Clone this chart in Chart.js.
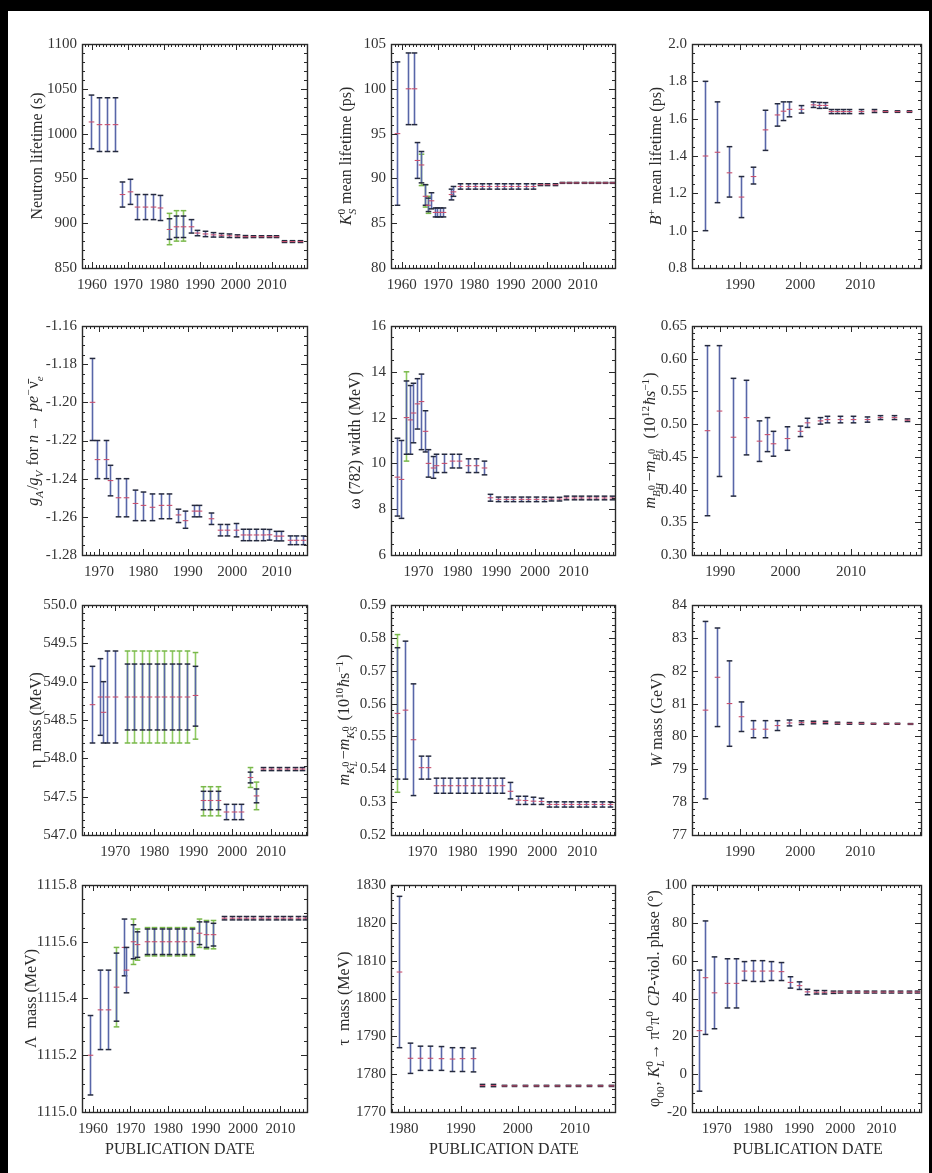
<!DOCTYPE html>
<html>
<head>
<meta charset="utf-8">
<title>PDG history plots</title>
<script src="https://cdn.jsdelivr.net/npm/chart.js@4.4.1/dist/chart.umd.min.js"></script>
<style>
  html, body { margin: 0; padding: 0; background: #000; width: 932px; height: 1173px; overflow: hidden; }
  #sheet { position: absolute; left: 8px; top: 11px; width: 921px; height: 1162px; background: #fff; }
  canvas { position: absolute; }
</style>
</head>
<body>
<div id="sheet"></div>
<script>
// ---------- data ----------

// neutron lifetime (s)
const nYears = [1959.7,1961.9,1964.2,1966.5,1968.3,1970.5,1972.5,1974.8,1976.9,1979.0,1981.3,1983.3,1985.3,1987.5,1989.3,1991.5,1993.7,1995.9,1998.1,2000.3,2002.5,2004.7,2006.9,2009.1,2011.3,2013.5,2015.7,2017.9];
const nVals = [1013,1010,1010,1010,932,935,918,918,918,917,893,896,896,896,889,888,887,886.5,886,885.5,885,885,885,885,885,879.5,879.5,879.5];
const nLo = [983,980,980,980,918,921,904,904,904,903,882,884,884,889,886,885,884.5,884.5,884,884,883.8,884,884,884,884,878.5,878.5,878.5];
const nHi = [1043,1040,1040,1040,946,949,932,932,932,931,905,908,908,904,892,891,889.5,888.5,888,887,886.2,886,886,886,886,880.5,880.5,880.5];
const nGYears = [1981.3,1983.3,1985.3];
const nGLo = [876,880,880];
const nGHi = [911,914,914];
const nXTicks = [1960,1970,1980,1990,2000,2010];
const nYTicks = [850,900,950,1000,1050,1100];

// K_S mean lifetime (ps)
const ksYears = [1958.6,1961.6,1963.4,1964.3,1965.2,1966.3,1967.1,1968.0,1969.1,1969.8,1970.6,1971.3,1973.5,1974.2,1976.2,1978.2,1980.2,1982.2,1984.2,1986.2,1988.2,1990.2,1992.2,1994.2,1996.2,1998.2,2000.2,2002.2,2004.2,2006.2,2008.2,2010.2,2012.2,2014.2,2016.2,2018.2];
const ksVals = [95,100,100,92,91.5,88,87,87.5,86.2,86.2,86.2,86.2,88.2,88.5,89.1,89.1,89.1,89.1,89.1,89.1,89.1,89.1,89.1,89.1,89.1,89.3,89.3,89.3,89.5,89.5,89.5,89.5,89.5,89.5,89.5,89.5];
const ksLo = [87,96,96,90,89.5,87,86.3,86.6,85.7,85.7,85.7,85.7,87.6,88.0,88.8,88.8,88.8,88.8,88.8,88.8,88.8,88.8,88.8,88.8,88.8,89.2,89.2,89.2,89.45,89.45,89.45,89.45,89.45,89.45,89.45,89.45];
const ksHi = [103,104,104,94,93,89.3,87.8,88.4,86.7,86.7,86.7,86.7,88.8,89.1,89.4,89.4,89.4,89.4,89.4,89.4,89.4,89.4,89.4,89.4,89.4,89.4,89.4,89.4,89.55,89.55,89.55,89.55,89.55,89.55,89.55,89.55];
const ksGYears = [1965.2,1966.3,1967.1];
const ksGLo = [89.2,86.8,86.1];
const ksGHi = [92.7,89.3,88.0];
const ksXTicks = [1960,1970,1980,1990,2000,2010];
const ksYTicks = [80,85,90,95,100,105];

// B+ mean lifetime (ps)
const bpYears = [1984.1,1986.2,1988.1,1990.1,1992.1,1994.1,1996.1,1997.1,1998.2,2000.1,2002.1,2003.1,2004.1,2005.2,2006.2,2007.2,2008.2,2010.2,2012.2,2014.1,2016.1,2018.1];
const bpVals = [1.40,1.42,1.31,1.18,1.29,1.54,1.62,1.64,1.65,1.65,1.674,1.671,1.671,1.638,1.638,1.638,1.638,1.638,1.641,1.638,1.638,1.638];
const bpLo = [1.0,1.15,1.18,1.07,1.25,1.43,1.56,1.59,1.61,1.63,1.66,1.655,1.656,1.627,1.627,1.627,1.627,1.627,1.633,1.634,1.634,1.634];
const bpHi = [1.8,1.69,1.45,1.29,1.34,1.645,1.68,1.69,1.69,1.67,1.69,1.687,1.686,1.649,1.649,1.649,1.649,1.649,1.649,1.642,1.642,1.642];
const bpXTicks = [1990,2000,2010];
const bpYTicks = [0.8,1.0,1.2,1.4,1.6,1.8,2.0];

// gA/gV
const gaYears = [1968.5,1969.6,1971.5,1972.6,1974.3,1976.2,1978.1,1980.0,1982.0,1983.9,1985.8,1987.7,1989.4,1991.3,1992.6,1995.2,1997.3,1998.9,2000.8,2002.3,2003.8,2005.3,2006.8,2008.3,2009.8,2011.0,2012.9,2014.4,2015.9];
const gaVals = [-1.20,-1.23,-1.23,-1.241,-1.25,-1.25,-1.253,-1.254,-1.255,-1.254,-1.254,-1.259,-1.262,-1.257,-1.257,-1.261,-1.267,-1.267,-1.267,-1.2695,-1.2695,-1.2695,-1.2695,-1.2694,-1.2701,-1.2701,-1.2723,-1.2723,-1.2723];
const gaLo = [-1.22,-1.24,-1.24,-1.249,-1.26,-1.26,-1.262,-1.262,-1.262,-1.261,-1.261,-1.263,-1.266,-1.260,-1.260,-1.264,-1.270,-1.270,-1.2705,-1.2725,-1.2725,-1.2725,-1.2725,-1.2722,-1.2726,-1.2726,-1.2746,-1.2746,-1.2746];
const gaHi = [-1.177,-1.22,-1.22,-1.233,-1.24,-1.24,-1.246,-1.247,-1.248,-1.248,-1.248,-1.256,-1.257,-1.254,-1.254,-1.258,-1.264,-1.264,-1.2635,-1.2665,-1.2665,-1.2665,-1.2665,-1.2666,-1.2676,-1.2676,-1.2700,-1.2700,-1.2700];
const gaXTicks = [1970,1980,1990,2000,2010];
const gaYTicks = [-1.28,-1.26,-1.24,-1.22,-1.20,-1.18,-1.16];

// omega(782) width (MeV)
const omYears = [1964.4,1965.5,1966.8,1967.7,1968.6,1969.6,1970.6,1971.6,1972.5,1973.6,1974.5,1976.6,1978.5,1980.4,1982.8,1984.9,1986.8,1988.5,1990.5,1992.4,1994.4,1996.3,1998.3,2000.2,2002.2,2004.1,2006.1,2008.0,2010.0,2011.9,2013.9,2015.8,2017.8,2019.7];
const omVals = [9.4,9.3,12.0,11.9,12.2,12.6,12.7,11.4,10.0,9.8,9.9,10.0,10.1,10.1,9.9,9.9,9.8,8.5,8.43,8.43,8.43,8.43,8.43,8.43,8.43,8.44,8.44,8.49,8.49,8.49,8.49,8.49,8.49,8.49];
const omLo = [7.7,7.6,10.4,10.4,10.9,11.5,10.6,10.5,9.4,9.35,9.6,9.6,9.8,9.8,9.6,9.6,9.5,8.35,8.33,8.33,8.33,8.33,8.33,8.33,8.33,8.36,8.36,8.41,8.41,8.41,8.41,8.41,8.41,8.41];
const omHi = [11.1,11.0,13.6,13.4,13.5,13.7,13.9,12.3,10.6,10.3,10.4,10.4,10.4,10.4,10.2,10.2,10.1,8.65,8.53,8.53,8.53,8.53,8.53,8.53,8.53,8.52,8.52,8.57,8.57,8.57,8.57,8.57,8.57,8.57];
const omGYears = [1966.8];
const omGLo = [10.1];
const omGHi = [14.0];
const omXTicks = [1970,1980,1990,2000,2010];
const omYTicks = [6,8,10,12,14,16];

// B0 mass difference
const bdYears = [1988.0,1989.9,1991.9,1994.0,1996.0,1997.1,1998.1,2000.2,2002.2,2003.3,2005.2,2006.3,2008.3,2010.3,2012.4,2014.4,2016.5,2018.5];
const bdVals = [0.49,0.52,0.48,0.51,0.474,0.484,0.470,0.478,0.489,0.502,0.505,0.507,0.507,0.507,0.507,0.510,0.510,0.506];
const bdLo = [0.36,0.42,0.39,0.453,0.443,0.458,0.451,0.460,0.481,0.495,0.500,0.502,0.502,0.502,0.503,0.507,0.507,0.504];
const bdHi = [0.62,0.62,0.57,0.567,0.505,0.510,0.489,0.496,0.497,0.509,0.510,0.512,0.512,0.512,0.511,0.513,0.513,0.508];
const bdXTicks = [1990,2000,2010];
const bdYTicks = [0.30,0.35,0.40,0.45,0.50,0.55,0.60,0.65];

// eta mass (MeV)
const etYears = [1964.0,1966.2,1967.0,1968.0,1970.0,1973.0,1974.9,1976.8,1978.7,1980.7,1982.6,1984.5,1986.4,1988.5,1990.4,1992.6,1994.4,1996.4,1998.5,2000.5,2002.3,2004.5,2006.2,2008.0,2010.0,2012.0,2014.0,2016.0,2018.0];
const etVals = [548.7,548.8,548.6,548.8,548.8,548.8,548.8,548.8,548.8,548.8,548.8,548.8,548.8,548.8,548.82,547.45,547.45,547.45,547.3,547.3,547.3,547.75,547.51,547.86,547.86,547.86,547.86,547.86,547.86];
const etLo = [548.2,548.3,548.2,548.2,548.2,548.37,548.37,548.37,548.37,548.37,548.37,548.37,548.37,548.37,548.42,547.33,547.33,547.33,547.2,547.2,547.2,547.68,547.42,547.84,547.84,547.84,547.84,547.84,547.84];
const etHi = [549.2,549.3,549.0,549.4,549.4,549.23,549.23,549.23,549.23,549.23,549.23,549.23,549.23,549.23,549.2,547.57,547.57,547.57,547.4,547.4,547.4,547.82,547.60,547.88,547.88,547.88,547.88,547.88,547.88];
const etGYears = [1973.0,1974.9,1976.8,1978.7,1980.7,1982.6,1984.5,1986.4,1988.5,1990.4,1992.6,1994.4,1996.4,2004.5,2006.2];
const etGLo = [548.2,548.2,548.2,548.2,548.2,548.2,548.2,548.2,548.2,548.25,547.25,547.25,547.25,547.62,547.33];
const etGHi = [549.4,549.4,549.4,549.4,549.4,549.4,549.4,549.4,549.4,549.38,547.63,547.63,547.63,547.88,547.69];
const etXTicks = [1970,1980,1990,2000,2010];
const etYTicks = [547.0,547.5,548.0,548.5,549.0,549.5,550.0];

// K0 mass difference
const kdYears = [1963.5,1965.6,1967.5,1969.6,1971.4,1973.3,1975.2,1977.0,1978.9,1980.7,1982.6,1984.4,1986.3,1988.1,1990.0,1991.9,1993.8,1995.7,1997.7,1999.6,2001.7,2003.5,2005.4,2007.3,2009.2,2011.0,2012.9,2015.0,2016.9];
const kdVals = [0.557,0.558,0.549,0.5405,0.5405,0.535,0.535,0.535,0.535,0.535,0.535,0.535,0.535,0.535,0.535,0.5333,0.5306,0.5305,0.5303,0.5302,0.5293,0.5293,0.5293,0.5293,0.5293,0.5293,0.5293,0.5293,0.5293];
const kdLo = [0.537,0.537,0.532,0.537,0.537,0.5327,0.5327,0.5327,0.5327,0.5327,0.5327,0.5327,0.5327,0.5327,0.5327,0.531,0.5293,0.5293,0.5293,0.5293,0.5285,0.5285,0.5285,0.5285,0.5285,0.5285,0.5285,0.5285,0.5285];
const kdHi = [0.577,0.579,0.566,0.544,0.544,0.5373,0.5373,0.5373,0.5373,0.5373,0.5373,0.5373,0.5373,0.5373,0.5373,0.536,0.5318,0.5318,0.5315,0.5312,0.5301,0.5301,0.5301,0.5301,0.5301,0.5301,0.5301,0.5301,0.5301];
const kdGYears = [1963.5];
const kdGLo = [0.533];
const kdGHi = [0.581];
const kdXTicks = [1970,1980,1990,2000,2010];
const kdYTicks = [0.52,0.53,0.54,0.55,0.56,0.57,0.58,0.59];

// W mass (GeV)
const wYears = [1984.1,1986.1,1988.1,1990.1,1992.2,1994.1,1996.1,1998.1,2000.2,2002.2,2004.2,2006.2,2008.1,2010.2,2012.1,2014.2,2016.1,2018.2];
const wVals = [80.8,81.8,81.0,80.6,80.22,80.22,80.33,80.41,80.419,80.423,80.425,80.403,80.398,80.399,80.385,80.385,80.385,80.379];
const wLo = [78.1,80.3,79.7,80.15,79.96,79.96,80.18,80.32,80.363,80.384,80.387,80.374,80.373,80.376,80.37,80.37,80.37,80.367];
const wHi = [83.5,83.3,82.3,81.05,80.48,80.48,80.48,80.50,80.475,80.462,80.463,80.432,80.423,80.422,80.40,80.40,80.40,80.391];
const wXTicks = [1990,2000,2010];
const wYTicks = [77,78,79,80,81,82,83,84];

// Lambda mass (MeV)
const lmYears = [1959.3,1962.0,1963.9,1966.1,1968.2,1968.9,1970.7,1971.7,1974.4,1976.4,1978.4,1980.4,1982.4,1984.4,1986.4,1988.4,1990.2,1992.0,1995.0,1997.0,1998.9,2000.9,2002.8,2004.8,2006.8,2008.7,2010.7,2012.6,2014.6,2016.6];
const lmVals = [1115.20,1115.36,1115.36,1115.44,1115.58,1115.50,1115.60,1115.59,1115.60,1115.60,1115.60,1115.60,1115.60,1115.60,1115.60,1115.63,1115.625,1115.625,1115.683,1115.683,1115.683,1115.683,1115.683,1115.683,1115.683,1115.683,1115.683,1115.683,1115.683,1115.683];
const lmLo = [1115.06,1115.22,1115.22,1115.32,1115.48,1115.42,1115.54,1115.545,1115.555,1115.555,1115.555,1115.555,1115.555,1115.555,1115.555,1115.59,1115.58,1115.585,1115.677,1115.677,1115.677,1115.677,1115.677,1115.677,1115.677,1115.677,1115.677,1115.677,1115.677,1115.677];
const lmHi = [1115.34,1115.50,1115.50,1115.56,1115.68,1115.58,1115.66,1115.635,1115.645,1115.645,1115.645,1115.645,1115.645,1115.645,1115.645,1115.67,1115.67,1115.665,1115.689,1115.689,1115.689,1115.689,1115.689,1115.689,1115.689,1115.689,1115.689,1115.689,1115.689,1115.689];
const lmGYears = [1966.1,1970.7,1971.7,1974.4,1976.4,1978.4,1980.4,1982.4,1984.4,1986.4,1988.4,1990.2,1992.0];
const lmGLo = [1115.30,1115.52,1115.535,1115.55,1115.55,1115.55,1115.55,1115.55,1115.55,1115.55,1115.58,1115.575,1115.575];
const lmGHi = [1115.58,1115.68,1115.645,1115.65,1115.65,1115.65,1115.65,1115.65,1115.65,1115.65,1115.68,1115.675,1115.675];
const lmXTicks = [1960,1970,1980,1990,2000,2010];
const lmYTicks = [1115.0,1115.2,1115.4,1115.6,1115.8];

// tau mass (MeV)
const tYears = [1979.2,1981.1,1982.9,1984.7,1986.6,1988.5,1990.2,1992.1,1993.7,1995.6,1997.5,1999.3,2001.2,2003.1,2005.0,2006.9,2008.7,2010.6,2012.5,2014.4,2016.3];
const tVals = [1807,1784.2,1784.2,1784.2,1784.1,1784,1784.1,1784.1,1777.0,1777.0,1776.9,1776.9,1776.9,1776.9,1776.9,1776.9,1776.9,1776.9,1776.9,1776.9,1776.9];
const tLo = [1787,1780.2,1781,1781,1781,1780.7,1780.7,1780.6,1776.7,1776.7,1776.75,1776.75,1776.75,1776.75,1776.75,1776.75,1776.75,1776.75,1776.75,1776.75,1776.75];
const tHi = [1827,1788.2,1787.4,1787.4,1787.3,1787,1787,1786.9,1777.3,1777.3,1777.05,1777.05,1777.05,1777.05,1777.05,1777.05,1777.05,1777.05,1777.05,1777.05,1777.05];
const tXTicks = [1980,1990,2000,2010];
const tYTicks = [1770,1780,1790,1800,1810,1820,1830];

// phi00 CP-violating phase (deg)
const pYears = [1965.7,1967.2,1969.4,1972.6,1974.8,1976.6,1978.9,1981.1,1983.3,1985.5,1987.9,1989.9,1992.0,1994.0,1996.0,1998.2,2000.0,2002.1,2004.1,2006.2,2008.3,2010.4,2012.4,2014.5,2016.6,2018.6];
const pVals = [23,51,43,48,48,54.5,54.5,54.5,54.5,54.2,48.5,46.8,43.5,43.3,43.3,43.3,43.4,43.4,43.4,43.4,43.4,43.4,43.4,43.4,43.4,43.4];
const pLo = [-9,21,24,35,35,49.5,49,49,49.5,49.5,45.5,44.8,42,42.4,42.4,42.7,42.9,42.9,42.9,42.9,42.9,42.9,42.9,42.9,42.9,42.9];
const pHi = [55,81,62,61,61,59.5,60,60,59.5,59,51.5,48.8,44.9,44.2,44.2,43.9,43.9,43.9,43.9,43.9,43.9,43.9,43.9,43.9,43.9,43.9];
const pXTicks = [1970,1980,1990,2000,2010];
const pYTicks = [-20,0,20,40,60,80,100];

// ---------- drawing helpers ----------
const FONT = '"Liberation Serif","Times New Roman",serif';
Chart.defaults.font.family = FONT;
Chart.defaults.color = '#333';

function line(ctx, x1, y1, x2, y2) { ctx.beginPath(); ctx.moveTo(x1, y1); ctx.lineTo(x2, y2); ctx.stroke(); }

// error bars drawn through the chart's own scales
const errorBars = {
  id: 'errorBars',
  afterDatasetsDraw(chart) {
    const { ctx, chartArea: a, scales: { x, y } } = chart;
    ctx.save();
    ctx.beginPath(); ctx.rect(a.left, a.top, a.width, a.height); ctx.clip();
    chart.data.datasets.forEach(ds => {
      ds.data.forEach((p, i) => {
        const px = Math.round(x.getPixelForValue(p.x)) + 0.5;
        const yl = y.getPixelForValue(ds.lo[i]), yh = y.getPixelForValue(ds.hi[i]);
        const w = 2.8;
        ctx.strokeStyle = ds.barColor; ctx.lineWidth = 1.6;
        line(ctx, px, yl, px, yh);
        ctx.strokeStyle = ds.capColor; ctx.lineWidth = 1.5;
        line(ctx, px - w, yl, px + w, yl); line(ctx, px - w, yh, px + w, yh);
        if (ds.mid) {
          const py = y.getPixelForValue(p.y);
          ctx.strokeStyle = '#c8506e'; ctx.lineWidth = 1.1;
          line(ctx, px - w, py, px + w, py);
        }
      });
    });
    ctx.restore();
  }
};

// Mathematica style frame with inward ticks on all four sides
const frame = {
  id: 'frame',
  afterDraw(chart, args, o) {
    const { ctx, chartArea: a, scales: { x, y } } = chart;
    const minors = (sc, step) => {
      const maj = sc.ticks.map(t => t.value), out = [];
      for (let k = Math.ceil(sc.min / step - 1e-6); k * step <= sc.max + 1e-9; k++) {
        const v = k * step;
        if (!maj.some(m => Math.abs(m - v) < step / 10)) out.push(v);
      }
      return out;
    };
    ctx.save();
    ctx.strokeStyle = '#2a2a2a'; ctx.lineWidth = 1;
    const tx = (vals, len) => vals.forEach(v => { const px = Math.round(x.getPixelForValue(v)) + 0.5; line(ctx, px, a.bottom, px, a.bottom - len); line(ctx, px, a.top, px, a.top + len); });
    const ty = (vals, len) => vals.forEach(v => { const py = Math.round(y.getPixelForValue(v)) + 0.5; line(ctx, a.left, py, a.left + len, py); line(ctx, a.right, py, a.right - len, py); });
    tx(x.ticks.map(t => t.value), 6); tx(minors(x, o.xMinor), 3);
    ty(y.ticks.map(t => t.value), 6); ty(minors(y, o.yMinor), 3);
    ctx.lineWidth = 1.4;
    ctx.strokeRect(Math.round(a.left) + 0.5, Math.round(a.top) + 0.5, Math.round(a.width), Math.round(a.height));
    ctx.restore();
  }
};

// tiny rich text: *italic*, _{sub}, ^{sup}
function parseRich(str) {
  let pos = 0;
  function seq(ital, inBrace) {
    const nodes = []; let buf = '';
    const flush = () => { if (buf) { nodes.push({ t: 'txt', s: buf, it: ital }); buf = ''; } };
    while (pos < str.length) {
      const c = str[pos];
      if (c === '}' && inBrace) { pos++; break; }
      if (c === '*') { flush(); ital = !ital; pos++; continue; }
      if (c === '_' || c === '^') {
        flush(); pos++;
        let arg;
        if (str[pos] === '{') { pos++; arg = seq(ital, true); } else { arg = [{ t: 'txt', s: str[pos++], it: ital }]; }
        const key = c === '_' ? 'sub' : 'sup';
        const last = nodes[nodes.length - 1];
        if (last && last.t === 'scr' && !last[key]) last[key] = arg;
        else { const n = { t: 'scr', sub: null, sup: null }; n[key] = arg; nodes.push(n); }
        continue;
      }
      buf += c; pos++;
    }
    flush();
    return nodes;
  }
  return seq(false, false);
}
const scriptSize = size => Math.max(size * 0.7, 9.5);
function richWidth(ctx, nodes, size) {
  let w = 0;
  nodes.forEach(n => {
    if (n.t === 'txt') { ctx.font = (n.it ? 'italic ' : '') + size + 'px ' + FONT; w += ctx.measureText(n.s).width; }
    else { const s = scriptSize(size); w += Math.max(n.sub ? richWidth(ctx, n.sub, s) : 0, n.sup ? richWidth(ctx, n.sup, s) : 0) + 1; }
  });
  return w;
}
function richDraw(ctx, nodes, x, y, size) {
  nodes.forEach(n => {
    if (n.t === 'txt') { ctx.font = (n.it ? 'italic ' : '') + size + 'px ' + FONT; ctx.fillText(n.s, x, y); x += ctx.measureText(n.s).width; }
    else {
      const s = scriptSize(size);
      const w1 = n.sup ? richWidth(ctx, n.sup, s) : 0, w2 = n.sub ? richWidth(ctx, n.sub, s) : 0;
      if (n.sup) richDraw(ctx, n.sup, x, y - size * 0.42, s);
      if (n.sub) richDraw(ctx, n.sub, x, y + size * 0.28, s);
      x += Math.max(w1, w2) + 1;
    }
  });
  return x;
}

const axisText = {
  id: 'axisText',
  afterDraw(chart, args, o) {
    const { ctx, chartArea: a } = chart;
    const ox = parseFloat(chart.canvas.style.left), oy = parseFloat(chart.canvas.style.top);
    ctx.save();
    ctx.fillStyle = '#2b2b2b';
    ctx.textBaseline = 'alphabetic';
    const nodes = parseRich(o.title);
    const size = 16;
    const w = richWidth(ctx, nodes, size);
    ctx.translate(o.titleX - ox, (a.top + a.bottom) / 2);
    ctx.rotate(-Math.PI / 2);
    richDraw(ctx, nodes, -w / 2, size * 0.33, size);
    ctx.restore();
    if (o.xTitle) {
      ctx.save();
      ctx.fillStyle = '#2b2b2b';
      ctx.font = '16px ' + FONT;
      ctx.textAlign = 'center';
      ctx.textBaseline = 'alphabetic';
      ctx.fillText(o.xTitle, o.xTitleX - ox, 1154 - oy);
      ctx.restore();
    }
  }
};

function makePanel(p) {
  const [L, T, R, B] = p.rect;
  const leftRoom = 90, yW = 52, xH = 26;
  const cx = L - leftRoom, cy = T - 14;
  const cw = R - L + leftRoom + 8;
  const ch = B - T + 14 + (p.xTitle ? 66 : 34);
  const cv = document.createElement('canvas');
  cv.width = cw; cv.height = ch;
  cv.style.left = cx + 'px'; cv.style.top = cy + 'px';
  document.body.appendChild(cv);

  const datasets = [];
  if (p.gYears) datasets.push({ data: p.gYears.map((x, i) => ({ x, y: (p.gLo[i] + p.gHi[i]) / 2 })), lo: p.gLo, hi: p.gHi, barColor: '#8fca62', capColor: '#79b84a', mid: false, pointRadius: 0 });
  datasets.push({ data: p.years.map((x, i) => ({ x, y: p.vals[i] })), lo: p.lo, hi: p.hi, barColor: '#5866a8', capColor: '#252a3e', mid: true, pointRadius: 0 });

  new Chart(cv, {
    type: 'scatter',
    data: { datasets },
    options: {
      responsive: false,
      animation: false,
      events: [],
      layout: { padding: { left: leftRoom - yW, top: 14, right: 8, bottom: ch - 14 - (B - T) - xH } },
      plugins: {
        legend: { display: false },
        tooltip: { enabled: false },
        frame: { xMinor: 1, yMinor: p.yMinor },
        axisText: { title: p.title, titleX: p.titleX, xTitle: p.xTitle, xTitleX: p.xTitleX }
      },
      scales: {
        x: {
          min: p.xRange[0], max: p.xRange[1],
          afterBuildTicks: s => { s.ticks = p.xTicks.map(v => ({ value: v })); },
          afterFit: s => { s.height = xH; },
          grid: { display: false, drawTicks: false }, border: { display: false },
          ticks: { font: { size: 15 }, color: '#333', padding: 8, maxRotation: 0, autoSkip: false, callback: v => String(v) }
        },
        y: {
          min: p.yRange[0], max: p.yRange[1],
          afterBuildTicks: s => { s.ticks = p.yTicks.map(v => ({ value: v })); },
          afterFit: s => { s.width = yW; },
          grid: { display: false, drawTicks: false }, border: { display: false },
          ticks: { font: { size: 15 }, color: '#333', padding: 5, autoSkip: false, callback: v => v.toFixed(p.yDec) }
        }
      }
    },
    plugins: [errorBars, frame, axisText]
  });
}

// ---------- panels ----------
makePanel({ rect: [82, 44, 307, 268], xRange: [1957.2, 2019.8], yRange: [850, 1100], xTicks: nXTicks, yTicks: nYTicks, yDec: 0, yMinor: 10,
  years: nYears, vals: nVals, lo: nLo, hi: nHi, gYears: nGYears, gLo: nGLo, gHi: nGHi, title: 'Neutron lifetime (s)', titleX: 37 });
makePanel({ rect: [391, 44, 615, 268], xRange: [1957, 2018.9], yRange: [80, 105], xTicks: ksXTicks, yTicks: ksYTicks, yDec: 0, yMinor: 1,
  years: ksYears, vals: ksVals, lo: ksLo, hi: ksHi, gYears: ksGYears, gLo: ksGLo, gHi: ksGHi, title: '*K*^{0}_{*S*} mean lifetime (ps)', titleX: 346 });
makePanel({ rect: [692, 44, 921, 268], xRange: [1982, 2020.1], yRange: [0.8, 2.0], xTicks: bpXTicks, yTicks: bpYTicks, yDec: 1, yMinor: 0.05,
  years: bpYears, vals: bpVals, lo: bpLo, hi: bpHi, title: '*B*^{+} mean lifetime (ps)', titleX: 656 });

makePanel({ rect: [82, 326, 307, 555], xRange: [1966.2, 2016.8], yRange: [-1.28, -1.16], xTicks: gaXTicks, yTicks: gaYTicks, yDec: 2, yMinor: 0.005,
  years: gaYears, vals: gaVals, lo: gaLo, hi: gaHi, title: '*g_{A}*/*g_{V}* for *n* \u2192 *pe*^{\u2212}\u03bd\u0304_{*e*}', titleX: 33 });
makePanel({ rect: [391, 326, 615, 555], xRange: [1962.9, 2020.6], yRange: [6, 16], xTicks: omXTicks, yTicks: omYTicks, yDec: 0, yMinor: 0.5,
  years: omYears, vals: omVals, lo: omLo, hi: omHi, gYears: omGYears, gLo: omGLo, gHi: omGHi, title: '\u03c9 (782) width (MeV)', titleX: 355 });
makePanel({ rect: [692, 326, 921, 555], xRange: [1985.7, 2020.7], yRange: [0.30, 0.65], xTicks: bdXTicks, yTicks: bdYTicks, yDec: 2, yMinor: 0.01,
  years: bdYears, vals: bdVals, lo: bdLo, hi: bdHi, title: '*m*_{*B*^{0}_{*H*}}\u2212*m*_{*B*^{0}_{*L*}}  (10^{12}*\u0127s*^{\u22121})', titleX: 650 });

makePanel({ rect: [82, 605, 307, 835], xRange: [1961.5, 2019.2], yRange: [547, 550], xTicks: etXTicks, yTicks: etYTicks, yDec: 1, yMinor: 0.1,
  years: etYears, vals: etVals, lo: etLo, hi: etHi, gYears: etGYears, gLo: etGLo, gHi: etGHi, title: '\u03b7  mass (MeV)', titleX: 36 });
makePanel({ rect: [391, 605, 615, 835], xRange: [1962.1, 2018.2], yRange: [0.52, 0.59], xTicks: kdXTicks, yTicks: kdYTicks, yDec: 2, yMinor: 0.002,
  years: kdYears, vals: kdVals, lo: kdLo, hi: kdHi, gYears: kdGYears, gLo: kdGLo, gHi: kdGHi, title: '*m*_{*K*^{0}_{*L*}}\u2212*m*_{*K*^{0}_{*S*}} (10^{10}*\u0127*s^{\u22121})', titleX: 344 });
makePanel({ rect: [692, 605, 921, 835], xRange: [1982, 2020.1], yRange: [77, 84], xTicks: wXTicks, yTicks: wYTicks, yDec: 0, yMinor: 0.2,
  years: wYears, vals: wVals, lo: wLo, hi: wHi, title: '*W* mass (GeV)', titleX: 657 });

makePanel({ rect: [82, 885, 307, 1112], xRange: [1957.1, 2017.1], yRange: [1115.0, 1115.8], xTicks: lmXTicks, yTicks: lmYTicks, yDec: 1, yMinor: 0.05,
  years: lmYears, vals: lmVals, lo: lmLo, hi: lmHi, gYears: lmGYears, gLo: lmGLo, gHi: lmGHi, title: '\u039b  mass (MeV)', titleX: 31,
  xTitle: 'PUBLICATION DATE', xTitleX: 180 });
makePanel({ rect: [391, 885, 615, 1112], xRange: [1977.8, 2017.0], yRange: [1770, 1830], xTicks: tXTicks, yTicks: tYTicks, yDec: 0, yMinor: 2,
  years: tYears, vals: tVals, lo: tLo, hi: tHi, title: '\u03c4  mass (MeV)', titleX: 344,
  xTitle: 'PUBLICATION DATE', xTitleX: 504 });
makePanel({ rect: [692, 885, 921, 1112], xRange: [1964, 2019.6], yRange: [-20, 100], xTicks: pXTicks, yTicks: pYTicks, yDec: 0, yMinor: 5,
  years: pYears, vals: pVals, lo: pLo, hi: pHi, title: '\u03c6_{00}, *K*^{0}_{*L*}\u2192 \u03c0^{0}\u03c0^{0} *CP*-viol. phase (\u00b0)', titleX: 654,
  xTitle: 'PUBLICATION DATE', xTitleX: 808 });
</script>
</body>
</html>
